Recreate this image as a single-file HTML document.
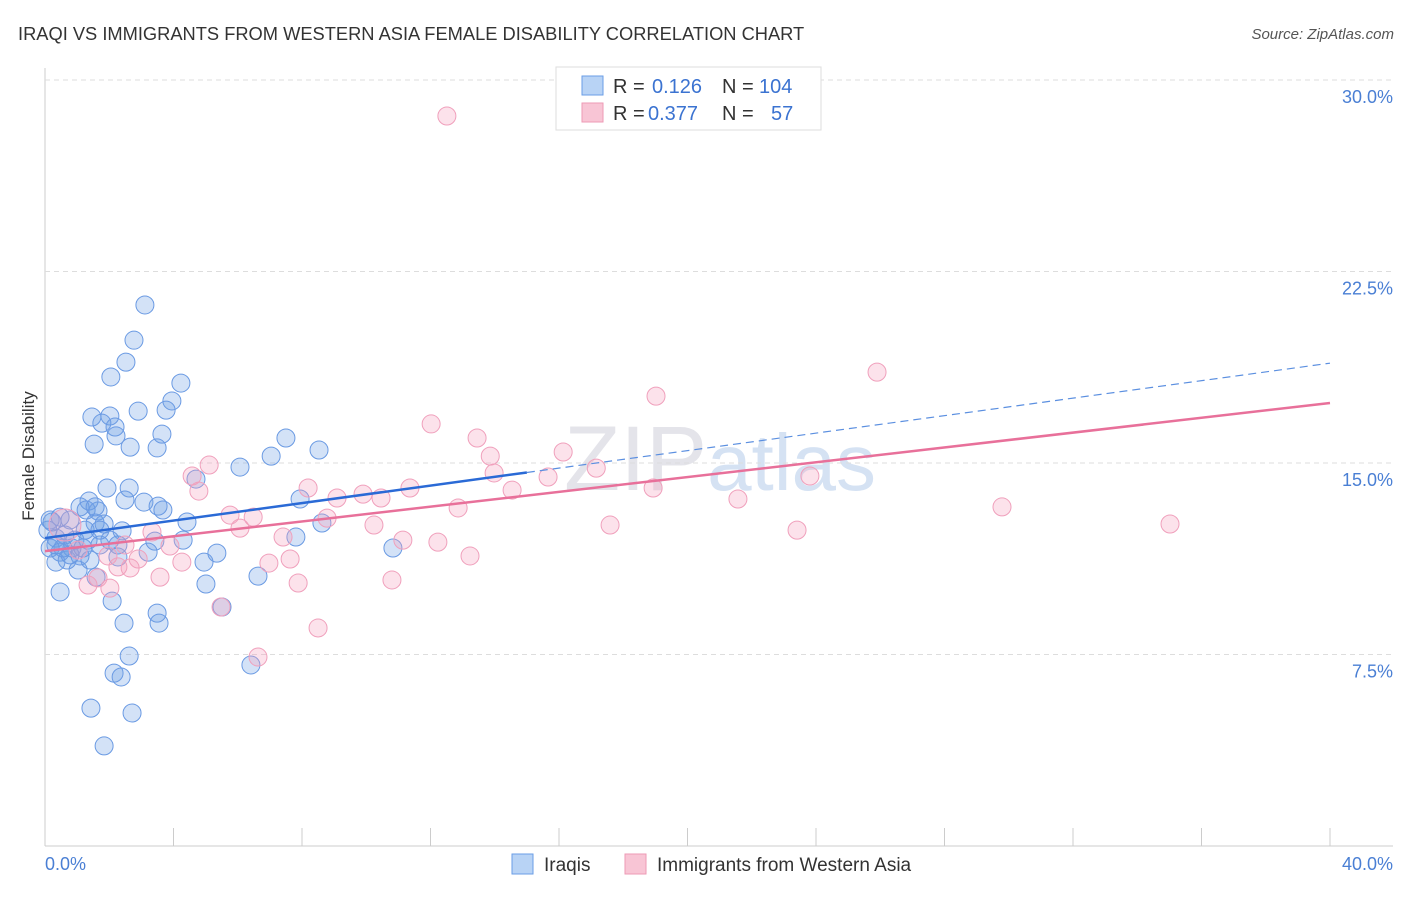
<!DOCTYPE html>
<html><head><meta charset="utf-8"><style>
body{margin:0;background:#fff;font-family:"Liberation Sans",sans-serif}
svg text{font-family:"Liberation Sans",sans-serif}
</style></head><body>
<svg id="c" width="1406" height="892">
<text x="18" y="40" font-size="18.3" fill="#333">IRAQI VS IMMIGRANTS FROM WESTERN ASIA FEMALE DISABILITY CORRELATION CHART</text>
<text x="1394" y="39" font-size="15" fill="#555" font-style="italic" text-anchor="end">Source: ZipAtlas.com</text>
<text x="34" y="456" font-size="17" fill="#333" text-anchor="middle" transform="rotate(-90 34 456)">Female Disability</text>
<text x="720" y="490" font-size="92" fill="#e4e4ea" text-anchor="middle" font-family="Liberation Serif">ZIP<tspan fill="#d5e2f3" font-family="Liberation Sans" font-size="80">atlas</tspan></text>
<g id="grid"></g><g id="marks"></g><g id="lines"></g>
<g>
<rect x="556" y="67" width="265" height="63" fill="#fff" stroke="#ddd"/>
<rect x="582" y="76" width="21" height="19" fill="#b8d3f5" stroke="#6a9ee6"/>
<rect x="582" y="103" width="21" height="19" fill="#f8c5d5" stroke="#ee9ab5"/>
<text x="613" y="93" font-size="20" fill="#333">R =</text>
<text x="652" y="93" font-size="20" fill="#3b73d1">0.126</text>
<text x="722" y="93" font-size="20" fill="#333">N =</text>
<text x="759" y="93" font-size="20" fill="#3b73d1">104</text>
<text x="613" y="120" font-size="20" fill="#333">R =</text>
<text x="648" y="120" font-size="20" fill="#3b73d1">0.377</text>
<text x="722" y="120" font-size="20" fill="#333">N =</text>
<text x="771" y="120" font-size="20" fill="#3b73d1">57</text>
</g>
<g>
<rect x="512" y="854" width="21" height="20" fill="#b8d3f5" stroke="#6a9ee6"/>
<text x="544" y="871" font-size="19" fill="#333">Iraqis</text>
<rect x="625" y="854" width="21" height="20" fill="#f8c5d5" stroke="#ee9ab5"/>
<text x="657" y="871" font-size="19" fill="#333">Immigrants from Western Asia</text>
</g>
</svg>
<script>
const xTicks=[0,10,20,30,40];
const xTickLabels=["0.0%","","","","40.0%"];
const yTicks=[7.5,15,22.5,30];
const yTickLabels=["7.5%","15.0%","22.5%","30.0%"];
const iraqX=[3.11,2.77,2.52,4.23,2.05,3.95,3.77,2.90,1.46,2.02,1.77,2.18,2.21,3.64,7.50,1.53,2.65,3.49,8.53,7.04,6.07,4.70,1.93,2.62,7.94,1.37,2.49,3.08,3.52,3.67,1.09,1.28,1.65,0.47,0.78,1.56,1.84,2.40,4.42,8.62,0.22,0.09,0.34,0.62,0.93,1.34,1.71,2.02,3.42,4.30,7.81,10.83,0.16,0.47,0.84,1.09,0.69,0.34,2.27,3.21,5.35,4.95,1.03,1.59,6.63,5.01,0.47,2.09,3.49,3.55,5.51,2.46,2.62,2.15,2.37,6.41,1.43,2.71,1.84,1.71,1.25,2.27,0.34,0.78,1.40,0.16,0.56,1.56,1.18];
const iraqY=[21.19,19.81,18.95,18.13,18.37,17.43,17.07,17.03,16.80,16.84,16.56,16.41,16.06,16.13,15.98,15.74,15.62,15.59,15.51,15.27,14.84,14.37,14.02,14.02,13.59,13.51,13.55,13.47,13.31,13.16,13.28,13.16,13.12,12.88,12.77,12.65,12.61,12.34,12.69,12.65,12.69,12.37,12.06,12.18,11.98,11.98,11.79,11.98,11.94,11.98,12.10,11.67,11.67,11.51,11.67,11.36,11.20,11.12,11.32,11.51,11.47,11.12,10.81,10.53,10.57,10.26,9.95,9.59,9.12,8.73,9.36,8.73,7.44,6.77,6.62,7.09,5.40,5.21,3.92,12.37,12.37,11.79,11.79,11.40,11.20,12.77,11.67,13.28,11.67];
const immX=[12.51,25.90,19.02,12.02,13.45,13.86,16.13,5.11,4.58,17.16,13.98,23.81,15.66,4.79,8.19,11.36,14.54,18.93,9.90,10.46,9.09,21.57,12.86,29.79,5.76,6.48,8.78,35.02,17.59,6.07,10.24,23.41,3.33,7.41,11.14,12.23,3.89,2.49,13.23,7.63,6.97,4.26,2.90,1.96,2.27,1.65,2.65,3.58,7.88,10.80,1.34,2.02,5.48,8.50,6.63,0.62,1.03];
const immY=[28.59,18.56,17.62,16.53,15.98,15.27,15.43,14.92,14.49,14.80,14.61,14.49,14.45,13.90,14.02,14.02,13.94,14.02,13.78,13.63,13.63,13.59,13.24,13.28,12.96,12.88,12.84,12.61,12.57,12.45,12.57,12.37,12.30,12.10,11.98,11.90,11.75,11.79,11.36,11.24,11.08,11.12,11.24,11.36,10.93,10.50,10.89,10.53,10.30,10.42,10.22,10.10,9.36,8.54,7.40,12.57,11.59];
const iraqTrend=[12.06,18.91]; const iraqSolidEnd=15.0;
const immTrend=[11.55,17.35];
const NS="http://www.w3.org/2000/svg";
const X=v=>45+v/40*1285, Y=v=>846-v/30*766;
function mk(t,a,p){const e=document.createElementNS(NS,t);for(const k in a)e.setAttribute(k,a[k]);p.appendChild(e);return e;}
const g=document.getElementById('grid'),m=document.getElementById('marks'),l=document.getElementById('lines');
mk('line',{x1:45,y1:68,x2:45,y2:846,stroke:'#ccc'},g);
mk('line',{x1:45,y1:846,x2:1393,y2:846,stroke:'#ccc'},g);
yTicks.forEach((t,i)=>{const gl=mk('line',{x1:45,y1:Y(t),x2:1393,y2:Y(t),stroke:'#ddd','stroke-dasharray':'5,4'},g);


const tx=mk('text',{x:1393,y:Y(t)+23,'font-size':18,fill:'#4a7fd4','text-anchor':'end'},g);tx.textContent=yTickLabels[i];

});
for(let i=0;i<=10;i++){const tk=mk('line',{x1:X(i*4),y1:828,x2:X(i*4),y2:846,stroke:'#ccc'},g);

}
xTicks.forEach((t,i)=>{if(!xTickLabels[i])return;const tx=mk('text',{x:i==0?45:1393,y:870,'font-size':18,fill:'#4a7fd4','text-anchor':i==0?'start':'end'},g);tx.textContent=xTickLabels[i];

});
iraqX.forEach((x,i)=>{const c=mk('circle',{cx:X(x),cy:Y(iraqY[i]),r:9,fill:'rgba(110,160,230,0.3)',stroke:'#6a9ae3','stroke-width':1},m);

});
immX.forEach((x,i)=>{const c=mk('circle',{cx:X(x),cy:Y(immY[i]),r:i==55?16:9,fill:'rgba(245,160,190,0.3)',stroke:'#f0a0bc','stroke-width':1},m);

});
const by=x=>iraqTrend[0]+(iraqTrend[1]-iraqTrend[0])*x/40;
const a=mk('line',{x1:X(0),y1:Y(by(0)),x2:X(iraqSolidEnd),y2:Y(by(iraqSolidEnd)),stroke:'#2a6ad6','stroke-width':2.5},l);


const b=mk('line',{x1:X(iraqSolidEnd),y1:Y(by(iraqSolidEnd)),x2:X(40),y2:Y(by(40)),stroke:'#5b8fe0','stroke-width':1.2,'stroke-dasharray':'8,5'},l);


const p=mk('line',{x1:X(0),y1:Y(immTrend[0]),x2:X(40),y2:Y(immTrend[1]),stroke:'#e8709a','stroke-width':2.5},l);


</script>
</body></html>
